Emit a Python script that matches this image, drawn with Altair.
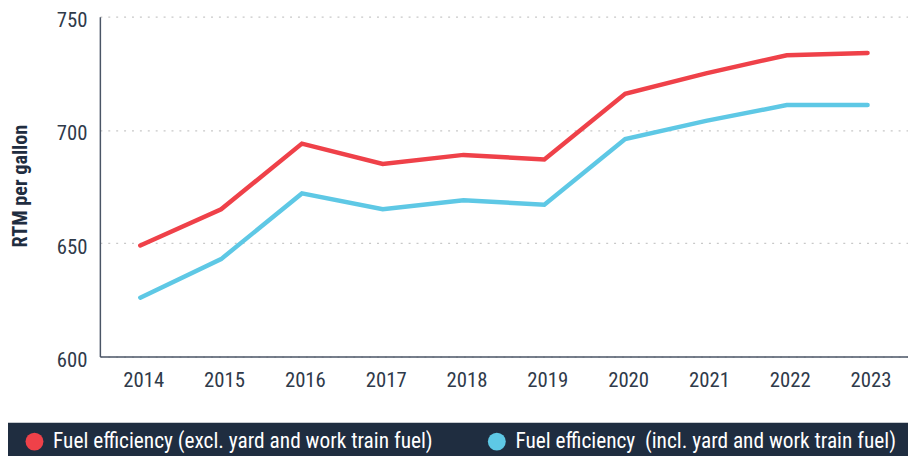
import altair as alt
import pandas as pd

years = ["2014", "2015", "2016", "2017", "2018", "2019", "2020", "2021", "2022", "2023"]
excl_values = [649, 665, 694, 685, 689, 687, 716, 725, 733, 734]
incl_values = [626, 643, 672, 665, 669, 667, 696, 704, 711, 711]
series_names = [
    "Fuel efficiency (excl. yard and work train fuel)",
    "Fuel efficiency\u00a0 (incl. yard and work train fuel)",
]
series_colors = ["#ef4149", "#5ec8e5"]
y_ticks = [600, 650, 700, 750]

rows = []
for y, a, b in zip(years, excl_values, incl_values):
    rows.append({"year": y, "series": series_names[0], "value": a})
    rows.append({"year": y, "series": series_names[1], "value": b})
df = pd.DataFrame(rows)

FONT = "Roboto Condensed, Liberation Sans Narrow, Roboto, sans-serif"
TEXT = "#2f3a4a"
NAVY = "#1f2d40"

color_scale = alt.Scale(domain=series_names, range=series_colors)

legend = alt.Legend(
    title=None, orient="none", legendX=-77, legendY=419,
    direction="horizontal", symbolType="circle", symbolSize=330,
    symbolStrokeWidth=0, symbolFillColor="#ffffff", labelFont=FONT, labelFontSize=21.6,
    labelColor="white", labelOffset=8, labelLimit=600,
    columnPadding=54, padding=0,
)

x_enc = alt.X(
    "year:O",
    title=None,
    scale=alt.Scale(paddingOuter=0.5),
    axis=alt.Axis(
        labelAngle=0, labelFont=FONT, labelFontSize=21, labelColor=TEXT,
        labelPadding=13, labelOffset=3, ticks=False, domainColor="#4a5566",
        domainWidth=1.5, grid=False,
    ),
)
y_enc = alt.Y(
    "value:Q",
    title="RTM per gallon",
    scale=alt.Scale(domain=[600, 750], nice=False, zero=False),
    axis=alt.Axis(
        values=y_ticks, labelFont=FONT, labelFontSize=21, labelColor=TEXT,
        labelPadding=13, labelOffset=4, ticks=False, domainColor="#4a5566",
        domainWidth=1.5, grid=True, gridColor="#c8c8c8", gridDash=[2, 6],
        gridWidth=1.3, titleFont=FONT, titleFontSize=20.5, titleFontWeight="bold",
        titleColor=NAVY, titleX=-80, titleY=171, titleAngle=-90,
        titleAlign="center", titleBaseline="middle",
    ),
)

band = alt.Chart(pd.DataFrame({"k": [0]})).mark_rect(color=NAVY).encode(
    x=alt.value(-96), x2=alt.value(830), y=alt.value(411), y2=alt.value(470)
)

lines = alt.Chart(df).mark_line(strokeWidth=4.5, strokeCap="round", strokeJoin="miter").encode(
    x=x_enc,
    y=y_enc,
    color=alt.Color("series:N", scale=color_scale, sort=series_names, legend=legend),
    detail="series:N",
)

dots = alt.Chart(df).mark_circle(size=0, opacity=1).encode(
    x="year:O",
    y="value:Q",
    color=alt.Color("series:N", scale=color_scale, sort=series_names, legend=legend),
)

chart = alt.layer(band, lines, dots).properties(
    width=818, height=344,
    autosize=alt.AutoSizeParams(type="none"),
    padding={"left": 93, "top": 6, "right": 0, "bottom": 110},
).configure_view(stroke=None)

chart.save("out.html", embed_options={"renderer": "svg", "actions": False})
